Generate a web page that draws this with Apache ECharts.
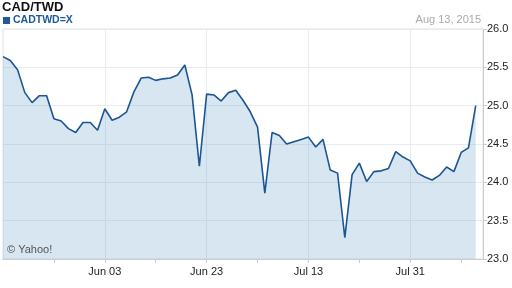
<!DOCTYPE html>
<html><head><meta charset="utf-8">
<script src="https://cdn.jsdelivr.net/npm/echarts@6/dist/echarts.min.js"></script>
<style>html,body{margin:0;padding:0;background:#fff}#c{width:512px;height:288px}</style>
</head><body><div id="c"></div>
<script>
const dates = ["May 14","May 15","May 18","May 19","May 20","May 21","May 22","May 25","May 26","May 27","May 28","May 29",
"Jun 01","Jun 02","Jun 03","Jun 04","Jun 05","Jun 08","Jun 09","Jun 10","Jun 11","Jun 12","Jun 15","Jun 16","Jun 17","Jun 18","Jun 19",
"Jun 22","Jun 23","Jun 24","Jun 25","Jun 26","Jun 29","Jun 30","Jul 01","Jul 02","Jul 03","Jul 06","Jul 07","Jul 08","Jul 09","Jul 10",
"Jul 13","Jul 14","Jul 15","Jul 16","Jul 17","Jul 20","Jul 21","Jul 22","Jul 23","Jul 24","Jul 27","Jul 28","Jul 29","Jul 30","Jul 31",
"Aug 03","Aug 04","Aug 05","Aug 06","Aug 07","Aug 10","Aug 11","Aug 12","Aug 13","Aug 14"];
const rates = [25.64,25.59,25.47,25.17,25.04,25.13,25.13,24.83,24.80,24.70,24.65,24.78,24.78,24.68,24.96,24.81,24.85,24.92,25.18,25.36,
25.37,25.33,25.35,25.36,25.40,25.53,25.14,24.21,25.15,25.14,25.06,25.17,25.20,25.07,24.92,24.72,23.86,24.65,24.61,24.50,
24.53,24.56,24.59,24.46,24.56,24.16,24.12,23.28,24.10,24.25,24.01,24.14,24.15,24.18,24.40,24.33,24.28,24.12,24.07,24.03,
24.09,24.20,24.14,24.39,24.45,25.00,null];
const labelIdx = [14,28,42,56];
const tickIdx = [7,14,21,28,35,42,49,56,63];
const chart = echarts.init(document.getElementById('c'));
chart.setOption({
  animation:false,
  textStyle:{fontFamily:'Liberation Sans, Arial, sans-serif'},
  title:[
    {text:'CAD/TWD',left:2,top:1,padding:0,textStyle:{fontSize:13,fontWeight:'bold',color:'#111'}},
    {text:'Aug 13, 2015',right:31,top:14,padding:0,textStyle:{fontSize:11,fontWeight:'normal',color:'#aaa'}},
    {text:'© Yahoo!',left:7,top:244,padding:0,textStyle:{fontSize:11,fontWeight:'normal',color:'#555'}}
  ],
  legend:{left:3,top:15,padding:0,icon:'rect',itemWidth:7,itemHeight:7,itemGap:4,
    textStyle:{color:'#1f5a96',fontWeight:'bold',fontSize:10.5,padding:[0,0,0,-2]},data:['CADTWD=X']},
  grid:{left:3,right:29,top:29,bottom:29,show:true,borderColor:'#dde3e9',borderWidth:1},
  xAxis:{type:'category',data:dates,boundaryGap:false,
    axisLine:{lineStyle:{color:'#ccc'}},
    axisTick:{interval:(i)=>tickIdx.includes(i),length:4,lineStyle:{color:'#ccc'}},
    axisLabel:{interval:(i)=>labelIdx.includes(i),color:'#222',fontSize:11,margin:7},
    splitLine:{show:true,interval:(i)=>labelIdx.includes(i),lineStyle:{color:'#e6ecf2'}}},
  yAxis:{type:'value',position:'right',min:23,max:26,interval:0.5,
    axisLine:{show:true,lineStyle:{color:'#ccc'}},
    axisTick:{show:true,length:4,lineStyle:{color:'#ccc'}},
    axisLabel:{formatter:(v)=>v.toFixed(1),color:'#222',fontSize:11,margin:4},
    splitLine:{lineStyle:{color:'#e6ecf2'}}},
  series:[{name:'CADTWD=X',type:'line',data:rates,symbol:'none',
    lineStyle:{color:'#1b5592',width:1.6},itemStyle:{color:'#1f5a96'},
    areaStyle:{color:'rgba(110,165,205,0.28)',opacity:1}}]
});
</script></body></html>
